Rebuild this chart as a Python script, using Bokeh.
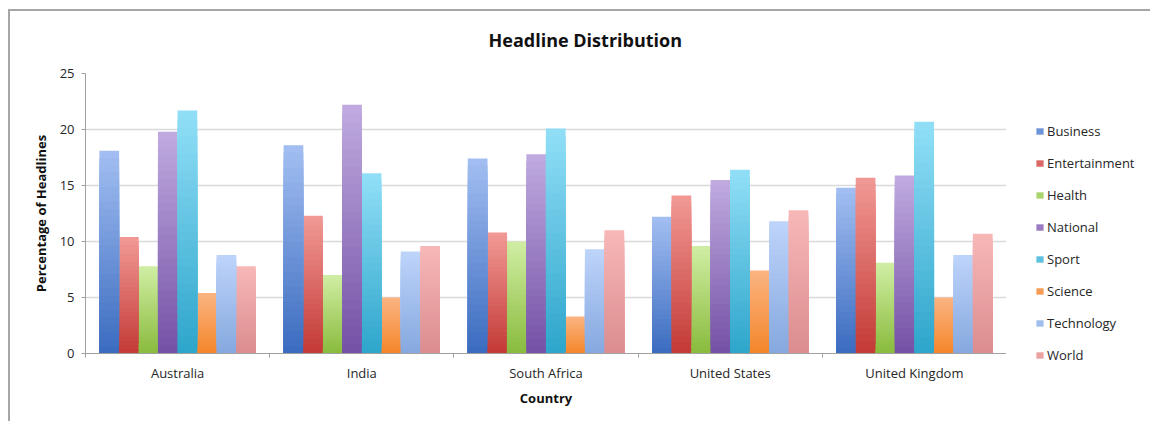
import numpy as np
from bokeh.plotting import figure
from bokeh.models import (ColumnDataSource, Range1d, FixedTicker, Legend,
                          LegendItem, Div)
from bokeh.embed import file_html
from bokeh.resources import INLINE

# ---- data -------------------------------------------------------------
countries = ["Australia", "India", "South Africa", "United States", "United Kingdom"]
categories = ["Business", "Entertainment", "Health", "National",
              "Sport", "Science", "Technology", "World"]

business      = [18.1, 18.6, 17.4, 12.2, 14.8]
entertainment = [10.4, 12.3, 10.8, 14.1, 15.7]
health        = [7.8, 7.0, 10.0, 9.6, 8.1]
national      = [19.8, 22.2, 17.8, 15.5, 15.9]
sport         = [21.7, 16.1, 20.1, 16.4, 20.7]
science       = [5.4, 5.0, 3.3, 7.4, 5.0]
technology    = [8.8, 9.1, 9.3, 11.8, 8.8]
world         = [7.8, 9.6, 11.0, 12.8, 10.7]

y_ticks = [0, 5, 10, 15, 20, 25]

series = [business, entertainment, health, national, sport, science, technology, world]

# ---- styling ----------------------------------------------------------
# (top colour, bottom colour) for the vertical gradient of each series
gradients = [
    ("#a3bff2", "#3a6bbf"),
    ("#f29a96", "#c33935"),
    ("#d0eea4", "#89bb3d"),
    ("#c0abe0", "#7450a5"),
    ("#92dff7", "#2da5cb"),
    ("#fbb482", "#f4862a"),
    ("#bed4fa", "#85a8df"),
    ("#f7b8b8", "#dc8c8e"),
]
FONT = "Open Sans"
TEXT = "#262626"
AXIS_GREY = "#a0a0a0"
GRID_GREY = "#d9d9d9"
BOX_EDGE = "2px solid #a6a6a6"


def hex_rgb(h):
    h = h.lstrip("#")
    return np.array([int(h[i:i + 2], 16) for i in (0, 2, 4)], dtype=float)


def mix(c1, c2, t):
    c = hex_rgb(c1) * (1 - t) + hex_rgb(c2) * t
    return "#%02x%02x%02x" % tuple(int(round(v)) for v in c)


p = figure(width=996, height=417, output_backend="svg", toolbar_location=None,
           x_range=Range1d(0, len(countries)), y_range=Range1d(0, 25),
           min_border_left=75, min_border_right=0,
           min_border_top=67, min_border_bottom=70)
p.styles = {"position": "absolute", "left": "10px", "top": "6px"}
p.background_fill_color = "white"
p.border_fill_color = "white"
p.outline_line_color = None

# ---- bars with a vertical gradient ------------------------------------
bar_w = 0.106
xs, vals, cat_idx = [], [], []
for j, s in enumerate(series):
    for i, v in enumerate(s):
        xs.append(i + 0.5 + (j - (len(series) - 1) / 2) * bar_w)
        vals.append(v)
        cat_idx.append(j)
vals = np.array(vals)

N = 28
sources = []
for k in range(N):
    frac = (N - k) / N
    t = 1 - (frac - 0.5 / N)
    colors = [mix(gradients[j][0], gradients[j][1], t) for j in cat_idx]
    src = ColumnDataSource(dict(x=xs, top=vals * frac, color=colors))
    p.vbar(x="x", top="top", bottom=0, width=bar_w * 1.01, source=src,
           fill_color="color", line_color=None)
    sources.append(src)

# ---- axes ---------------------------------------------------------------
centers = [i + 0.5 for i in range(len(countries))]
bounds = list(range(len(countries) + 1))
p.xaxis.ticker = FixedTicker(ticks=centers, minor_ticks=bounds)
p.xaxis.major_label_overrides = {c: name for c, name in zip(centers, countries)}
p.xaxis.major_tick_out = 0
p.xaxis.major_tick_in = 0
p.xaxis.minor_tick_out = 4
p.xaxis.minor_tick_in = 0
p.xaxis.minor_tick_line_color = AXIS_GREY
p.xaxis.axis_line_color = AXIS_GREY
p.xaxis.major_label_standoff = 6
p.xaxis.axis_label = "Country"
p.xaxis.axis_label_standoff = 4

p.yaxis.ticker = FixedTicker(ticks=y_ticks)
p.yaxis.minor_tick_line_color = None
p.yaxis.major_tick_out = 4
p.yaxis.major_tick_in = 0
p.yaxis.major_tick_line_color = AXIS_GREY
p.yaxis.axis_line_color = AXIS_GREY
p.yaxis.major_label_standoff = 7
p.yaxis.axis_label = "Percentage of Headlines"
p.yaxis.axis_label_standoff = 7

for ax in (p.xaxis, p.yaxis):
    ax.major_label_text_font = FONT
    ax.major_label_text_font_size = "13px"
    ax.major_label_text_color = TEXT
    ax.axis_label_text_font = FONT
    ax.axis_label_text_font_size = "13px"
    ax.axis_label_text_font_style = "bold"
    ax.axis_label_text_color = "#111111"

p.xgrid.grid_line_color = None
p.ygrid.ticker = FixedTicker(ticks=y_ticks)
p.ygrid.grid_line_color = GRID_GREY
p.ygrid.grid_line_width = 1.5

# ---- title ------------------------------------------------------------
p.title.text = "Headline Distribution"
p.title.align = "left"
p.title.vertical_align = "top"
p.title.offset = 403
p.title.standoff = 40
p.title.text_font = FONT
p.title.text_font_size = "18px"
p.title.text_font_style = "bold"
p.title.text_color = "#111111"

# ---- legend panel, placed to the right of the plot ----------------------
pl = figure(width=146, height=412, output_backend="svg", toolbar_location=None,
            title=None, x_axis_type=None, y_axis_type=None,
            x_range=Range1d(100, 101), y_range=Range1d(100, 101),
            min_border=0)
pl.styles = {"position": "absolute", "left": "1006px", "top": "11px"}
pl.outline_line_color = None
pl.grid.visible = False
pl.background_fill_color = "white"
pl.border_fill_color = "white"

mid_src = sources[N // 2]
key = pl.vbar(x="x", top="top", bottom=0, width=bar_w, source=mid_src,
              fill_color="color", line_color=None)
items = [LegendItem(label=name, renderers=[key], index=j * len(countries))
         for j, name in enumerate(categories)]
legend = Legend(items=items, location=(29, 58), orientation="vertical",
                glyph_width=9, glyph_height=8, label_standoff=3,
                label_height=20, spacing=12, padding=0, margin=0,
                border_line_color=None, background_fill_alpha=0,
                label_text_font=FONT, label_text_font_size="13px",
                label_text_color=TEXT)
pl.add_layout(legend)

# grey edge of the chart box, laid over both panels
edge = Div(text="", width=1142, height=412, margin=0,
           styles={"position": "absolute", "left": "8px", "top": "9px",
                   "border-left": BOX_EDGE, "border-top": BOX_EDGE,
                   "pointer-events": "none"})

open("out.html", "w").write(file_html([p, pl, edge], INLINE))
